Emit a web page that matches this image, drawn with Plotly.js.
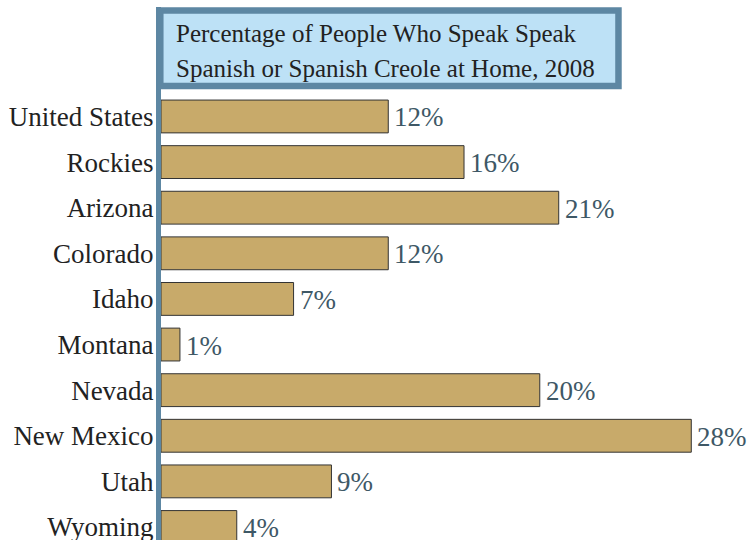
<!DOCTYPE html>
<html>
<head>
<meta charset="utf-8">
<script src="https://cdn.plot.ly/plotly-3.0.1.min.js"></script>
<style>html,body{margin:0;padding:0;background:#fff;}#chart{width:750px;height:540px;}</style>
</head>
<body>
<div id="chart"></div>
<script>
var categories = ["United States", "Rockies", "Arizona", "Colorado", "Idaho", "Montana", "Nevada", "New Mexico", "Utah", "Wyoming"];
var values = [12, 16, 21, 12, 7, 1, 20, 28, 9, 4];
var valueLabels = values.map(function (v) { return v + "%"; });
var titleLines = ["Percentage of People Who Speak Speak", "Spanish or Spanish Creole at Home, 2008"];

var positions = categories.map(function (c, i) { return i; });
var FONT = "Liberation Serif, serif";

var trace = {
  type: "bar",
  orientation: "h",
  x: values,
  y: positions,
  width: 0.72,
  marker: { color: "#c8aa6a", line: { color: "#333333", width: 1 } },
  hoverinfo: "none"
};

var annotations = values.map(function (v, i) {
  return {
    xref: "x", yref: "y", x: v, y: positions[i],
    xanchor: "left", yanchor: "middle", xshift: 4, yshift: -1,
    text: valueLabels[i], showarrow: false,
    font: { family: FONT, size: 27, color: "#3e5866" }
  };
});

var titleCenters = [33, 68];
titleLines.forEach(function (t, i) {
  annotations.push({
    xref: "paper", yref: "paper",
    x: (174 - 161) / 589, y: (540 - titleCenters[i]) / 533,
    xanchor: "left", yanchor: "middle", align: "left",
    text: t, showarrow: false,
    font: { family: FONT, size: 25, color: "#222222" }
  });
});

var layout = {
  width: 750,
  height: 540,
  margin: { l: 161, r: 0, t: 7, b: 0, pad: 0 },
  paper_bgcolor: "#ffffff",
  plot_bgcolor: "#ffffff",
  showlegend: false,
  font: { family: FONT, size: 27, color: "#222222" },
  xaxis: {
    range: [0, 31.1],
    showgrid: false, zeroline: false, showticklabels: false, showline: false, ticks: ""
  },
  yaxis: {
    range: [9.285, -2.4],
    tickmode: "array",
    tickvals: positions,
    ticktext: categories,
    showgrid: false, zeroline: false,
    showline: true, linecolor: "#5d87a3", linewidth: 5,
    ticks: "", ticklabelstandoff: -3, ticklabeloverflow: "allow",
    tickfont: { family: FONT, size: 27, color: "#222222" }
  },
  shapes: [{
    type: "rect", xref: "paper", yref: "paper",
    x0: -0.0012, x1: 0.7767, y0: 0.8518, y1: 0.9934,
    fillcolor: "#bde1f6",
    line: { color: "#5d87a3", width: 6.5 }
  }],
  annotations: annotations
};

Plotly.newPlot("chart", [trace], layout, { displayModeBar: false, staticPlot: true });
</script>
</body>
</html>
